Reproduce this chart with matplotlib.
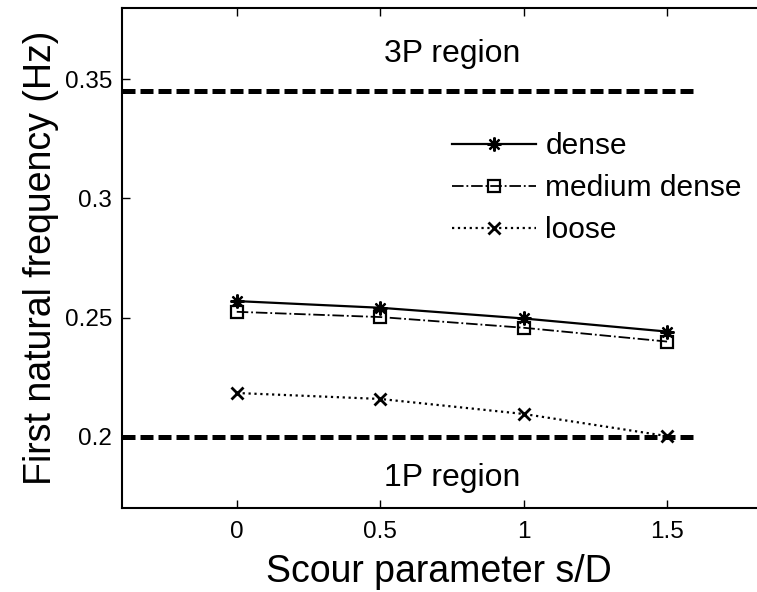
import matplotlib
matplotlib.use('Agg')
import matplotlib.pyplot as plt

plt.rcParams['font.family'] = ['Liberation Sans', 'DejaVu Sans']

# scour parameter s/D
scour = [0, 0.5, 1, 1.5]
# first natural frequency (Hz) per soil type
dense = [0.2569, 0.2541, 0.2496, 0.2441]
medium_dense = [0.2524, 0.2502, 0.2457, 0.2399]
loose = [0.2183, 0.2158, 0.2095, 0.2002]

# 1P / 3P frequency limits
limit_x = [-0.4, 1.59]
freq_3p = 0.345
freq_1p = 0.2

fig = plt.figure(figsize=(7.57, 5.92), dpi=100)
ax = fig.add_axes([122 / 757, 84 / 592, 634 / 757, 500 / 592])

ax.plot(limit_x, [freq_3p, freq_3p], color='k', lw=3.6, ls=(0, (2.6, 1.0)), dash_capstyle='butt')
ax.plot(limit_x, [freq_1p, freq_1p], color='k', lw=3.6, ls=(0, (2.6, 1.0)), dash_capstyle='butt')

ax.plot(scour, dense, 'k-', marker=(8, 2, 0), ms=10, mew=1.6, lw=1.6, label='dense')
ax.plot(scour, medium_dense, 'k-.', marker='s', ms=8, mfc='none', mew=1.6, lw=1.3, label='medium dense')
ax.plot(scour, loose, 'k:', marker='x', ms=8, mew=2, lw=1.6, label='loose')

ax.text(0.75, 0.3606, '3P region', ha='center', va='center', fontsize=23)
ax.text(0.75, 0.1828, '1P region', ha='center', va='center', fontsize=23)

ax.set_xlim(-0.4, 1.81)
ax.set_ylim(0.17, 0.38)
ax.set_xticks([0, 0.5, 1, 1.5])
ax.set_xticklabels(['0', '0.5', '1', '1.5'])
ax.set_yticks([0.2, 0.25, 0.3, 0.35])
ax.set_yticklabels(['0.2', '0.25', '0.3', '0.35'])
ax.tick_params(direction='in', top=True, right=False, length=6, width=1, labelsize=17.5)
ax.tick_params(axis='x', pad=9)
ax.tick_params(axis='y', pad=7)
for s in ax.spines.values():
    s.set_linewidth(1.5)
ax.spines['right'].set_visible(False)

ax.set_xlabel('Scour parameter s/D', fontsize=27, labelpad=8)
ax.set_ylabel('First natural frequency (Hz)', fontsize=27, labelpad=4)

ax.legend(loc='upper left', bbox_to_anchor=(452 / 757, 1 - 132 / 592), bbox_transform=fig.transFigure,
          frameon=False, fontsize=21.5, handlelength=2.8, handletextpad=0.33, labelspacing=0.47,
          borderpad=0, borderaxespad=0)

fig.savefig('out.png', dpi=100)
